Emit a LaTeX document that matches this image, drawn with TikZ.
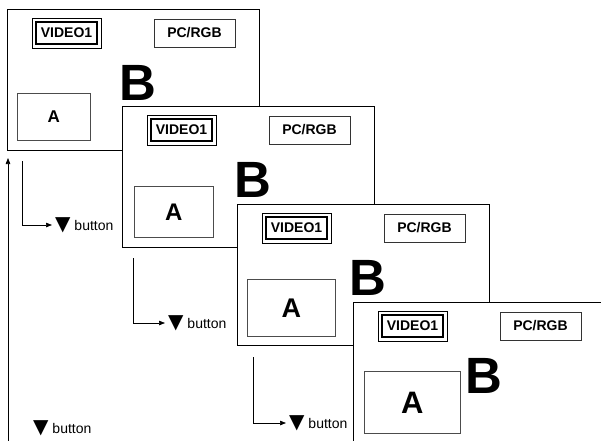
\documentclass[tikz,border=0pt]{standalone}
\usepackage{fontspec}
\setmainfont{Liberation Sans}
\newfontfamily\symfont{DejaVu Sans}
\usetikzlibrary{arrows.meta, positioning}
\newcommand{\fsz}[1]{\fontsize{#1}{#1}\selectfont}
\newcommand{\downkey}{{\symfont\fsz{20}\char"25BC}}

\begin{document}
\begin{tikzpicture}[x=1pt, y=-1pt, >={Triangle[length=6pt,width=4.5pt]},
  screen/.style={draw, line width=1.4pt, fill=white, anchor=north west, inner sep=0,
    minimum width=252pt, minimum height=141pt},
  srcbox/.style={draw=black!80, line width=0.7pt, inner sep=0, minimum width=81pt,
    minimum height=28pt, font=\bfseries\fsz{14}},
  active/.style={srcbox, draw=black, line width=1.6pt, minimum width=61pt, minimum height=22pt},
  pip/.style={draw=black!70, line width=0.7pt, anchor=north west, inner sep=0},
  main/.style={font=\bfseries\fsz{51}, inner sep=0},
  flow/.style={line width=0.7pt, ->},
  keylabel/.style={anchor=west, inner xsep=3pt, inner ysep=0, font=\fsz{14}}]
  \useasboundingbox (0,0) rectangle (601,440);
  \clip (0,0) rectangle (601,440);
  % screens, each one laid over the previous
  \foreach \i/\sx/\sy/\ax/\ay/\aw/\ah/\afs in
    {1/7/9/10/84/73/47/17, 2/122/106/12/80/79/51/24,
     3/237/204/10/75/88/57/27, 4/353/302/11/69/96/62/31}
  {
    \begin{scope}[shift={(\sx,\sy)}]
      \node[screen] (screen\i) at (0,0) {};
      \node[active] (video\i) at (59.5,24) {VIDEO1};
      \draw[line width=0.6pt] ([shift={(-3pt,3pt)}]video\i.north west)
        rectangle ([shift={(3pt,-3pt)}]video\i.south east);
      \node[srcbox] (pc\i) at (187.5,24) {PC/RGB};
      \node[pip, minimum width=\aw pt, minimum height=\ah pt,
        font=\bfseries\fsz{\afs}] (pip\i) at (\ax,\ay) {A};
      \node[main] (main\i) at (131,74) {B};
    \end{scope}
  }
  % button steps between screens
  \foreach \i/\ex/\et/\ec/\tip in {1/22/161/225/52, 2/133/258/323/165, 3/253/357/423/286}
  {
    \coordinate (from\i) at (\ex,\et);
    \node[keylabel] (key\i) at (\tip,\ec) {\downkey\ button};
    \draw[flow] (from\i) |- (key\i.west);
  }
  % back to the first screen
  \node[keylabel] (key0) at (30,428) {\downkey\ button};
  \coordinate (loopstart) at (8,445);
  \coordinate (loopend) at (8,158);
  \draw[flow] (loopstart) -- (loopend);
\end{tikzpicture}
\end{document}
